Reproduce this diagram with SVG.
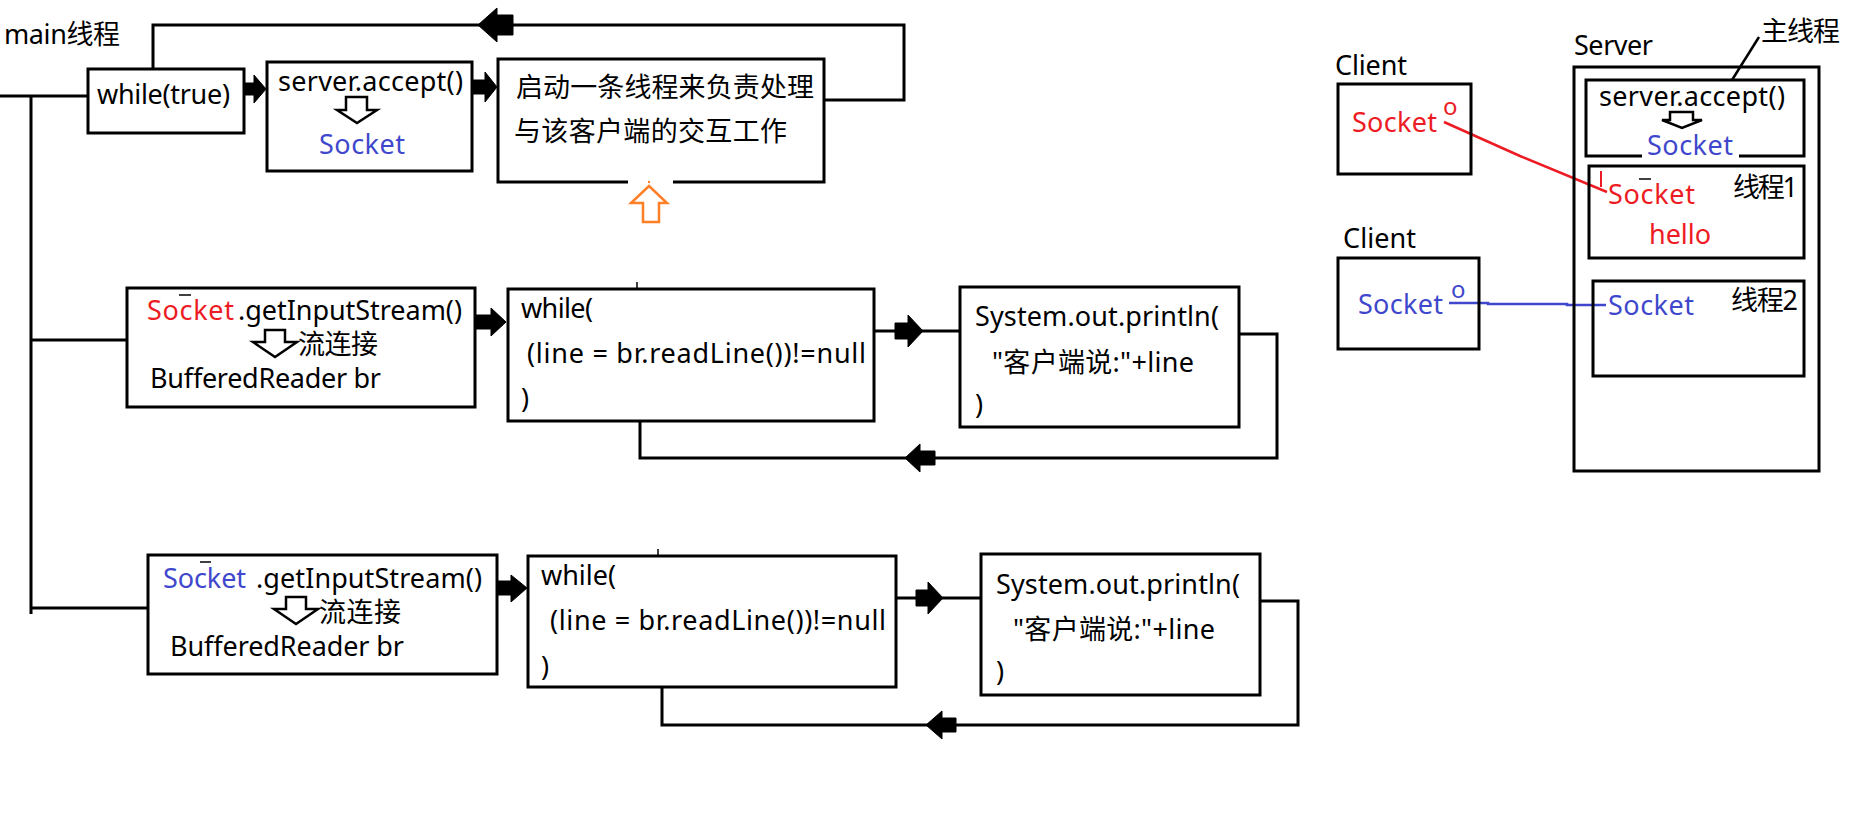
<svg xmlns="http://www.w3.org/2000/svg" width="1875" height="828" viewBox="0 0 1875 828">
<style>
text{font-family:"Noto Sans","Noto Sans CJK SC",sans-serif;font-size:27px;fill:#000}
.blue{fill:#3f48cc}
.red{fill:#ed1c24}
.sup{font-size:24px}
.box{fill:none;stroke:#000;stroke-width:3}
.ln{fill:none;stroke:#000;stroke-width:3}
.thin{fill:none;stroke:#000;stroke-width:1.5}
.arr{fill:#000;stroke:#000;stroke-width:1}
.hol{fill:#fff;stroke:#000;stroke-width:2.5;stroke-linejoin:miter}
.org{fill:#fff;stroke:#ff7f27;stroke-width:2.5}
</style>
<rect width="1875" height="828" fill="#fff"/>

<g id="connectors">
  <polyline class="ln" points="0,96 88,96"/>
  <polyline class="ln" points="31,96 31,614"/>
  <polyline class="ln" points="31,340 127,340"/>
  <polyline class="ln" points="31,608 148,608"/>
  <polyline class="ln" points="153,69 153,25 904,25 904,100 824,100"/>
  <polygon class="arr" points="478,25 497,8 497,15 513,15 513,35 497,35 497,42"/>
  <polygon class="arr" points="245,83 254,83 254,75 266,89 254,103 254,95 245,95"/>
  <polygon class="arr" points="472,80 485,80 485,72 497,87 485,102 485,94 472,94"/>
  <polygon class="org" points="643,222 659,222 659,203 667,203 649,186 631,203 643,203"/>
  <polygon class="arr" points="476,315 491,315 491,308 506,322 491,336 491,329 476,329"/>
  <line class="ln" x1="874" y1="331" x2="960" y2="331"/>
  <polygon class="arr" points="895,323 908,323 908,315 923,331 908,347 908,339 895,339"/>
  <polyline class="ln" points="1239,334 1277,334 1277,458 640,458 640,421"/>
  <polygon class="arr" points="905,458 920,444 920,451 935,451 935,465 920,465 920,472"/>
  <line class="thin" x1="637" y1="282" x2="637" y2="289"/>
  <polygon class="arr" points="498,581 511,581 511,575 527,588 511,602 511,595 498,595"/>
  <line class="ln" x1="896" y1="598" x2="981" y2="598"/>
  <polygon class="arr" points="916,590 928,590 928,582 943,598 928,614 928,606 916,606"/>
  <polyline class="ln" points="1260,601 1298,601 1298,725 662,725 662,687"/>
  <polygon class="arr" points="926,725 942,711 942,718 956,718 956,732 942,732 942,739"/>
  <line class="thin" x1="658" y1="549" x2="658" y2="556"/>
  <line x1="1759" y1="37" x2="1732" y2="80" stroke="#000" stroke-width="2.5"/>
  <polyline points="1444,122 1520,156 1607,192" fill="none" stroke="#ed1c24" stroke-width="2.5"/>
  <line x1="1601" y1="171" x2="1601" y2="187" stroke="#ed1c24" stroke-width="2"/>
  <polyline points="1449,303 1488,303 1488,304 1567,304 1567,305 1606,305" fill="none" stroke="#3f48cc" stroke-width="2.5"/>
</g>

<g id="main-label">
  <text x="4" y="44" textLength="116">main线程</text>
</g>

<g id="while-true">
  <rect class="box" x="88" y="69" width="156" height="64"/>
  <text x="97" y="104" textLength="133">while(true)</text>
</g>

<g id="server-accept">
  <rect class="box" x="267" y="62" width="205" height="109"/>
  <text x="278" y="91" textLength="185">server.accept()</text>
  <polygon class="hol" points="346,97 367,97 367,110 377,110 357,123 337,110 346,110"/>
  <text class="blue" x="319" y="154" textLength="86">Socket</text>
</g>

<g id="start-thread">
  <path class="box" d="M628,182 L498,182 L498,59 L824,59 L824,182 L673,182"/>
  <text x="516" y="97" textLength="298">启动一条线程来负责处理</text>
  <text x="514" y="141" textLength="273">与该客户端的交互工作</text>
  <circle cx="649" cy="182" r="1.2" fill="#ff7f27"/>
</g>

<g id="stream1">
  <rect class="box" x="127" y="288" width="348" height="119"/>
  <text class="red" x="147" y="320" textLength="87">Socket</text>
  <line class="thin" x1="179" y1="295" x2="191" y2="295"/>
  <text x="238" y="320" textLength="224">.getInputStream()</text>
  <polygon class="hol" points="265,330 285,330 285,342 297,342 275,357 253,342 265,342"/>
  <text x="298" y="354" textLength="80">流连接</text>
  <text x="150" y="388" textLength="231">BufferedReader br</text>
</g>

<g id="while-read1">
  <rect class="box" x="508" y="289" width="366" height="132"/>
  <text x="521" y="318" textLength="72">while(</text>
  <text x="527" y="363" textLength="339">(line = br.readLine())!=null</text>
  <text x="521" y="408">)</text>
</g>

<g id="print1">
  <rect class="box" x="960" y="287" width="279" height="140"/>
  <text x="975" y="326" textLength="244">System.out.println(</text>
  <text x="992" y="372" textLength="202">"客户端说:"+line</text>
  <text x="975" y="414">)</text>
</g>

<g id="stream2">
  <rect class="box" x="148" y="555" width="349" height="119"/>
  <text class="blue" x="163" y="588" textLength="83">Socket</text>
  <line class="thin" x1="200" y1="562" x2="211" y2="562"/>
  <text x="256" y="588" textLength="226">.getInputStream()</text>
  <polygon class="hol" points="286,597 306,597 306,609 318,609 296,624 274,609 286,609"/>
  <text x="319" y="622" textLength="82">流连接</text>
  <text x="170" y="656" textLength="234">BufferedReader br</text>
</g>

<g id="while-read2">
  <rect class="box" x="528" y="556" width="368" height="131"/>
  <text x="541" y="585" textLength="75">while(</text>
  <text x="550" y="630" textLength="336">(line = br.readLine())!=null</text>
  <text x="541" y="676">)</text>
</g>

<g id="print2">
  <rect class="box" x="981" y="554" width="279" height="141"/>
  <text x="996" y="594" textLength="244">System.out.println(</text>
  <text x="1013" y="639" textLength="202">"客户端说:"+line</text>
  <text x="996" y="681">)</text>
</g>

<g id="client1">
  <text x="1335" y="75" textLength="72">Client</text>
  <rect class="box" x="1338" y="84" width="133" height="90"/>
  <text class="red" x="1352" y="132" textLength="85">Socket</text>
  <text class="red sup" x="1443" y="115">o</text>
</g>

<g id="client2">
  <text x="1343" y="248" textLength="73">Client</text>
  <rect class="box" x="1338" y="258" width="141" height="91"/>
  <text class="blue" x="1358" y="314" textLength="85">Socket</text>
  <text class="blue sup" x="1451" y="298">o</text>
</g>

<g id="server">
  <text x="1574" y="55" textLength="79">Server</text>
  <text x="1761" y="41" textLength="79">主线程</text>
  <rect class="box" x="1574" y="67" width="245" height="404"/>
</g>

<g id="main-thread">
  <path class="box" d="M1642,156 L1586,156 L1586,80 L1804,80 L1804,156 L1739,156"/>
  <text x="1599" y="106" textLength="186">server.accept()</text>
  <polygon class="hol" points="1670,112 1693,112 1693,120 1702,120 1682,128 1662,120 1670,120"/>
  <text class="blue" x="1647" y="155" textLength="86">Socket</text>
</g>

<g id="thread1">
  <rect class="box" x="1589" y="166" width="215" height="92"/>
  <text x="1733" y="197" textLength="65">线程1</text>
  <text class="red" x="1608" y="204" textLength="87">Socket</text>
  <line class="thin" x1="1639" y1="179" x2="1651" y2="179"/>
  <text class="red" x="1649" y="244" textLength="62">hello</text>
</g>

<g id="thread2">
  <rect class="box" x="1593" y="281" width="211" height="95"/>
  <text x="1731" y="310" textLength="67">线程2</text>
  <text class="blue" x="1608" y="315" textLength="86">Socket</text>
</g>
</svg>
